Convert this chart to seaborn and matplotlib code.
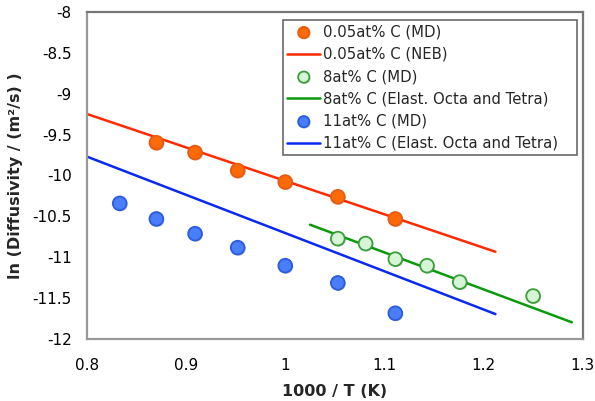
import numpy as np
import pandas as pd
import matplotlib
matplotlib.use("Agg")
import matplotlib.pyplot as plt
import matplotlib.patheffects as pe
import seaborn as sns
from matplotlib.ticker import MultipleLocator, FuncFormatter

# ---- data ----
md005_x = [0.870, 0.909, 0.952, 1.000, 1.053, 1.111]
md005_y = [-9.60, -9.72, -9.94, -10.08, -10.26, -10.53]
neb005_x = [0.800, 1.212]
neb005_y = [-9.25, -10.93]

md8_x = [1.053, 1.081, 1.111, 1.143, 1.176, 1.250]
md8_y = [-10.77, -10.83, -11.02, -11.10, -11.30, -11.47]
el8_x = [1.025, 1.289]
el8_y = [-10.60, -11.79]

md11_x = [0.833, 0.870, 0.909, 0.952, 1.000, 1.053, 1.111]
md11_y = [-10.34, -10.53, -10.71, -10.88, -11.10, -11.31, -11.68]
el11_x = [0.800, 1.212]
el11_y = [-9.77, -11.69]

labels = ["0.05at% C (MD)", "0.05at% C (NEB)", "8at% C (MD)",
          "8at% C (Elast. Octa and Tetra)", "11at% C (MD)",
          "11at% C (Elast. Octa and Tetra)"]
x_label = "1000 / T (K)"
y_label = "ln (Diffusivity / (m²/s) )"

sns.set_style("white")
plt.rcParams['font.family'] = ['DejaVu Sans']
plt.rcParams['axes.unicode_minus'] = False

fig = plt.figure(figsize=(5.95, 4.01), dpi=100)
ax = fig.add_axes([0.1462, 0.1534, 0.8331, 0.8179])

lw = 1.8
line_specs = [
    (neb005_x, neb005_y, "#FF2A00", labels[1]),
    (el8_x, el8_y, "#0A9A0A", labels[3]),
    (el11_x, el11_y, "#0A2AF0", labels[5]),
]
handles = {}
for xs, ys, col, lab in line_specs:
    df = pd.DataFrame({"x": xs, "y": ys})
    sns.lineplot(data=df, x="x", y="y", ax=ax, color=col, linewidth=lw,
                 label=lab, legend=False, zorder=2)
    handles[lab] = ax.lines[-1]

pt_specs = [
    (md005_x, md005_y, "#FF6A08", "#E85A10", labels[0]),
    (md8_x, md8_y, "#D6F5D6", "#3A9E3A", labels[2]),
    (md11_x, md11_y, "#4A7DFA", "#2A5BE0", labels[4]),
]
shadow = [pe.SimplePatchShadow(offset=(0.8, -0.8), shadow_rgbFace="#000000",
                               alpha=0.2), pe.Normal()]
for xs, ys, fc, ec, lab in pt_specs:
    df = pd.DataFrame({"x": xs, "y": ys})
    sns.scatterplot(data=df, x="x", y="y", ax=ax, s=98, color=fc,
                    edgecolor=ec, linewidth=1.3, label=lab, legend=False,
                    zorder=3)
    coll = ax.collections[-1]
    coll.set_path_effects(shadow)
    handles[lab] = coll

ax.set_xlim(0.8, 1.3)
ax.set_ylim(-12, -8)
ax.xaxis.set_major_locator(MultipleLocator(0.1))
ax.xaxis.set_minor_locator(MultipleLocator(0.02))
ax.yaxis.set_major_locator(MultipleLocator(0.5))
ax.yaxis.set_minor_locator(MultipleLocator(0.1))
fmt = FuncFormatter(lambda v, p: "{:g}".format(round(v, 3)))
ax.xaxis.set_major_formatter(fmt)
ax.yaxis.set_major_formatter(fmt)
ax.tick_params(which="both", direction="in", color="#999999", width=1.0,
               labelsize=11, labelcolor="black", length=5)
ax.tick_params(axis="x", pad=13)
ax.tick_params(axis="y", pad=11)
for side in ["left", "bottom"]:
    ax.spines[side].set_color("#999999")
    ax.spines[side].set_linewidth(1.6)
for side in ["top", "right"]:
    ax.spines[side].set_color("#777777")
    ax.spines[side].set_linewidth(1.6)

ax.set_xlabel(x_label, fontsize=11.5, fontweight="bold", labelpad=8)
ax.set_ylabel(y_label, fontsize=11.5, fontweight="bold", labelpad=7)

# legend box: x 283..577 px, y 20..165 px of the figure
x0 = (283 - 87) / 495.7
x1 = (577 - 87) / 495.7
y1 = (339.5 - 20) / 328
y0 = (339.5 - 165) / 328
leg = ax.legend([handles[l] for l in labels], labels,
                loc="upper left", bbox_to_anchor=(x0, y0, x1 - x0, y1 - y0),
                mode="expand", frameon=True, fancybox=False, shadow=False,
                fontsize=10.7, handlelength=2.2, handletextpad=0.2,
                borderpad=0.3, labelspacing=0.49, borderaxespad=0,
                markerscale=0.82)
leg.get_frame().set_edgecolor("#444444")
leg.get_frame().set_linewidth(1.2)

fig.savefig("out.png", dpi=100)
